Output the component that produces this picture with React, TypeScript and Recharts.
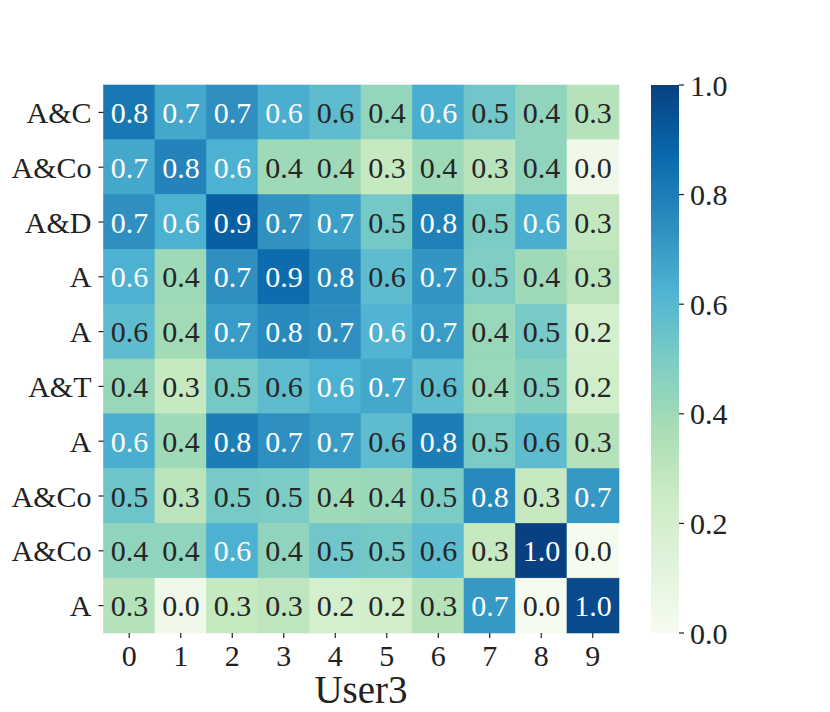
import { BarChart, Bar, XAxis, YAxis } from "recharts";

const columns = ["0", "1", "2", "3", "4", "5", "6", "7", "8", "9"];
const rowNames = ["A&C", "A&Co", "A&D", "A", "A", "A&T", "A", "A&Co", "A&Co", "A"];

// similarity matrix, one row per label (top to bottom)
const row0 = [0.82, 0.66, 0.74, 0.64, 0.58, 0.43, 0.64, 0.53, 0.44, 0.33];
const row1 = [0.66, 0.78, 0.63, 0.4, 0.4, 0.27, 0.4, 0.32, 0.44, 0.04];
const row2 = [0.74, 0.63, 0.9, 0.73, 0.69, 0.52, 0.79, 0.5, 0.64, 0.28];
const row3 = [0.63, 0.4, 0.74, 0.86, 0.76, 0.58, 0.72, 0.49, 0.4, 0.31];
const row4 = [0.58, 0.39, 0.7, 0.76, 0.74, 0.62, 0.7, 0.42, 0.51, 0.2];
const row5 = [0.42, 0.27, 0.52, 0.58, 0.63, 0.66, 0.58, 0.42, 0.47, 0.22];
const row6 = [0.64, 0.4, 0.8, 0.74, 0.7, 0.58, 0.8, 0.5, 0.58, 0.33];
const row7 = [0.54, 0.31, 0.51, 0.5, 0.4, 0.41, 0.5, 0.76, 0.27, 0.71];
const row8 = [0.44, 0.44, 0.63, 0.44, 0.53, 0.52, 0.58, 0.27, 1.0, 0.01];
const row9 = [0.33, 0.04, 0.27, 0.3, 0.2, 0.22, 0.33, 0.71, 0.01, 0.97];
const values = [row0, row1, row2, row3, row4, row5, row6, row7, row8, row9];

const rowTicks = [0.5, 1.5, 2.5, 3.5, 4.5, 5.5, 6.5, 7.5, 8.5, 9.5];
const colorbarTicks = [0, 0.2, 0.4, 0.6, 0.8, 1.0];

// GnBu colormap stops
const GNBU = [
  "#f7fcf0", "#e0f3db", "#ccebc5", "#a8ddb5", "#7bccc4",
  "#4eb3d3", "#2b8cbe", "#0868ac", "#084081",
];

const FONT = "'Liberation Serif', 'DejaVu Serif', serif";
const INK = "#222222";

const hexToRgb = (h: string) => [
  parseInt(h.slice(1, 3), 16),
  parseInt(h.slice(3, 5), 16),
  parseInt(h.slice(5, 7), 16),
];

const cmapRgb = (v: number) => {
  const t = Math.max(0, Math.min(1, v)) * (GNBU.length - 1);
  const i = Math.min(GNBU.length - 2, Math.floor(t));
  const f = t - i;
  const a = hexToRgb(GNBU[i]);
  const b = hexToRgb(GNBU[i + 1]);
  return a.map((c, k) => Math.round(c + (b[k] - c) * f));
};

const cmap = (v: number) => {
  const [r, g, b] = cmapRgb(v);
  return `rgb(${r},${g},${b})`;
};

// seaborn-style annotation colour
const textColor = (v: number) => {
  const lin = cmapRgb(v).map((c) => {
    const s = c / 255;
    return s <= 0.03928 ? s / 12.92 : Math.pow((s + 0.055) / 1.055, 2.4);
  });
  const lum = 0.2126 * lin[0] + 0.7152 * lin[1] + 0.0722 * lin[2];
  return lum > 0.408 ? "#262626" : "#ffffff";
};

const data = columns.map((c, j) => {
  const d: Record<string, any> = { col: c };
  rowNames.forEach((_, i) => {
    d[`r${i}`] = 1;
    d[`v${i}`] = values[i][j];
  });
  return d;
});

const colorbarData = [{ name: "cb", v: 1 }];

// reversed axis gives negative heights, so normalise the rect
const makeCell = (i: number) => (props: any) => {
  const { x, y, width, height, payload } = props;
  const v = payload[`v${i}`];
  const fill = cmap(v);
  const top = Math.min(y, y + height);
  const h = Math.abs(height);
  return (
    <g>
      <rect x={x} y={top} width={width} height={h} fill={fill} stroke={fill} strokeWidth={0.6} />
      <text
        x={x + width / 2}
        y={top + h / 2}
        textAnchor="middle"
        dominantBaseline="central"
        fill={textColor(v)}
        fontSize={30}
        fontFamily={FONT}
      >
        {v.toFixed(1)}
      </text>
    </g>
  );
};

const tickStyle = { fontSize: 30, fill: INK, fontFamily: FONT };

export default function App() {
  return (
    <div style={{ position: "absolute", left: 0, top: 0, width: 830, height: 712, background: "#fff" }}>
      <div style={{ position: "absolute", left: 0, top: 0 }}>
        <BarChart
          width={640}
          height={712}
          data={data}
          margin={{ top: 85, right: 21.5, left: 0, bottom: 0 }}
          barCategoryGap={0}
        >
          <XAxis
            dataKey="col"
            height={79}
            tickSize={5}
            tickMargin={7}
            axisLine={false}
            tickLine={{ stroke: INK, strokeWidth: 1.2 }}
            tick={tickStyle}
            interval={0}
            label={{ value: "User3", position: "insideBottom", offset: 9, fontSize: 39, fill: INK, fontFamily: FONT }}
          />
          <YAxis
            type="number"
            domain={[0, 10]}
            reversed
            ticks={rowTicks}
            interval={0}
            tickFormatter={(v: number) => rowNames[Math.floor(v)]}
            width={103.5}
            tickSize={5}
            tickMargin={7}
            axisLine={false}
            tickLine={{ stroke: INK, strokeWidth: 1.2 }}
            tick={tickStyle}
          />
          {rowNames.map((_, i) => (
            <Bar
              key={i}
              dataKey={`r${i}`}
              stackId="m"
              isAnimationActive={false}
              shape={makeCell(i)}
            />
          ))}
        </BarChart>
      </div>
      <div style={{ position: "absolute", left: 651, top: 0 }}>
        <BarChart
          width={110}
          height={712}
          data={colorbarData}
          margin={{ top: 85, right: 0, left: 0, bottom: 79 }}
          barCategoryGap={0}
        >
          <defs>
            <linearGradient id="gnbuGrad" x1="0" y1="0" x2="0" y2="1">
              {GNBU.slice()
                .reverse()
                .map((c, k) => (
                  <stop key={k} offset={`${(k / (GNBU.length - 1)) * 100}%`} stopColor={c} />
                ))}
            </linearGradient>
          </defs>
          <XAxis dataKey="name" hide />
          <YAxis
            orientation="right"
            type="number"
            domain={[0, 1]}
            ticks={colorbarTicks}
            interval={0}
            tickFormatter={(v: number) => v.toFixed(1)}
            width={82}
            tickSize={5}
            tickMargin={6}
            axisLine={false}
            tickLine={{ stroke: INK, strokeWidth: 1.2 }}
            tick={{ ...tickStyle, textAnchor: "start" }}
          />
          <Bar dataKey="v" fill="url(#gnbuGrad)" isAnimationActive={false} />
        </BarChart>
      </div>
    </div>
  );
}
